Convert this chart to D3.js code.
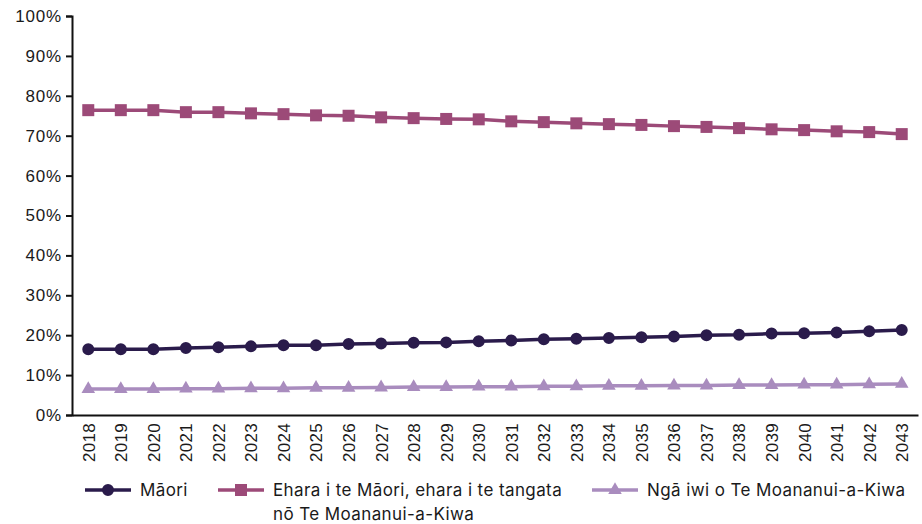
<!DOCTYPE html>
<html>
<head>
<meta charset="utf-8">
<script src="https://cdn.jsdelivr.net/npm/d3@7/dist/d3.min.js"></script>
<style>
  body { margin: 0; background: #fff; }
  svg { display: block; font-family: Inter, "Noto Sans", sans-serif; }
</style>
</head>
<body>
<svg id="chart" width="922" height="524"></svg>
<script>
// Years along the x axis
var years = d3.range(2018, 2044).map(String);

// Share of population (%)
var maori = [16.5, 16.5, 16.5, 16.8, 17.0, 17.2, 17.5, 17.5, 17.8, 17.9, 18.1, 18.2, 18.5,
    18.7, 19.0, 19.1, 19.3, 19.5, 19.7, 20.0, 20.1, 20.4, 20.5, 20.7, 21.0, 21.3];
var ehara = [76.4, 76.4, 76.4, 75.9, 75.9, 75.6, 75.4, 75.1, 75.0, 74.6, 74.4, 74.2, 74.1,
    73.6, 73.4, 73.1, 72.9, 72.7, 72.4, 72.2, 71.9, 71.6, 71.4, 71.1, 70.9, 70.4];
var pacific = [6.5, 6.5, 6.5, 6.6, 6.6, 6.7, 6.7, 6.8, 6.8, 6.9, 7.0, 7.0, 7.1,
    7.1, 7.2, 7.2, 7.3, 7.3, 7.4, 7.4, 7.5, 7.5, 7.6, 7.6, 7.7, 7.8];

var yTicks = [0, 10, 20, 30, 40, 50, 60, 70, 80, 90, 100];

// Series list with their legend labels
var series = [
    {name: ["Māori"], values: maori, color: "#2a1b4b", symbol: d3.symbolCircle, size: 113},
    {name: ["Ehara i te Māori, ehara i te tangata", "nō Te Moananui-a-Kiwa"], values: ehara, color: "#9c4a78", symbol: d3.symbolSquare, size: 144},
    {name: ["Ngā iwi o Te Moananui-a-Kiwa"], values: pacific, color: "#a98cbe", symbol: d3.symbolTriangle, size: 80}
];

var margin = {top: 16, left: 72, right: 4, bottom: 109};
var width = 922 - margin.left - margin.right;
var height = 524 - margin.top - margin.bottom;

var svg = d3.select("#chart");
var g = svg.append("g")
    .attr("transform", `translate(${margin.left}, ${margin.top})`);

var x = d3.scalePoint()
    .domain(years)
    .range([0, width])
    .padding(0.5);

var y = d3.scaleLinear()
    .domain([0, 100])
    .range([height, 0]);

// Y axis
var yAxis = g.append("g")
    .call(d3.axisLeft(y).tickValues(yTicks).tickSize(6).tickPadding(4)
        .tickFormat(function(d) { return d + "%"; }));
yAxis.select(".domain").attr("stroke", "#111").attr("stroke-width", 2);
yAxis.selectAll(".tick line").attr("stroke", "#111").attr("stroke-width", 2);
yAxis.selectAll("text")
    .attr("fill", "#1a1a1a")
    .style("font-size", "17px")
    .style("letter-spacing", "0.8px");

// X axis, rotated year labels, no ticks
var xAxis = g.append("g")
    .attr("transform", `translate(0, ${height})`)
    .call(d3.axisBottom(x).tickSize(0).tickPadding(0));
xAxis.select(".domain").attr("stroke", "#111").attr("stroke-width", 2);
xAxis.selectAll("text")
    .attr("fill", "#1a1a1a")
    .style("font-size", "17px")
    .style("letter-spacing", "0.3px")
    .attr("text-anchor", "end")
    .attr("dy", "0.35em")
    .attr("transform", "translate(0, 8) rotate(-90)")
    .attr("x", 0)
    .attr("y", 0);

var line = d3.line()
    .x(function(d, i) { return x(years[i]); })
    .y(function(d) { return y(d); });

// Lines and markers
series.forEach(function(s) {
    g.append("path")
        .datum(s.values)
        .attr("fill", "none")
        .attr("stroke", s.color)
        .attr("stroke-width", 3.5)
        .attr("d", line);

    g.selectAll(null)
        .data(s.values)
        .join("path")
        .attr("transform", function(d, i) { return `translate(${x(years[i])}, ${y(d)})`; })
        .attr("d", d3.symbol().type(s.symbol).size(s.size))
        .attr("fill", s.color);
});

// Legend
var legendX = [85, 218, 592];
var legendY = 490;
series.forEach(function(s, i) {
    var lg = svg.append("g")
        .attr("transform", `translate(${legendX[i]}, ${legendY})`);
    lg.append("line")
        .attr("x1", 0).attr("x2", 46)
        .attr("stroke", s.color)
        .attr("stroke-width", 3.5);
    lg.append("path")
        .attr("transform", "translate(23, 0)")
        .attr("d", d3.symbol().type(s.symbol).size(s.size))
        .attr("fill", s.color);
    lg.selectAll("text")
        .data(s.name)
        .join("text")
        .attr("x", 55)
        .attr("y", function(d, j) { return j * 24; })
        .attr("dy", "0.35em")
        .attr("fill", "#1a1a1a")
        .style("font-size", "17px")
        .style("letter-spacing", "0.4px")
        .text(function(d) { return d; });
});
</script>
</body>
</html>
